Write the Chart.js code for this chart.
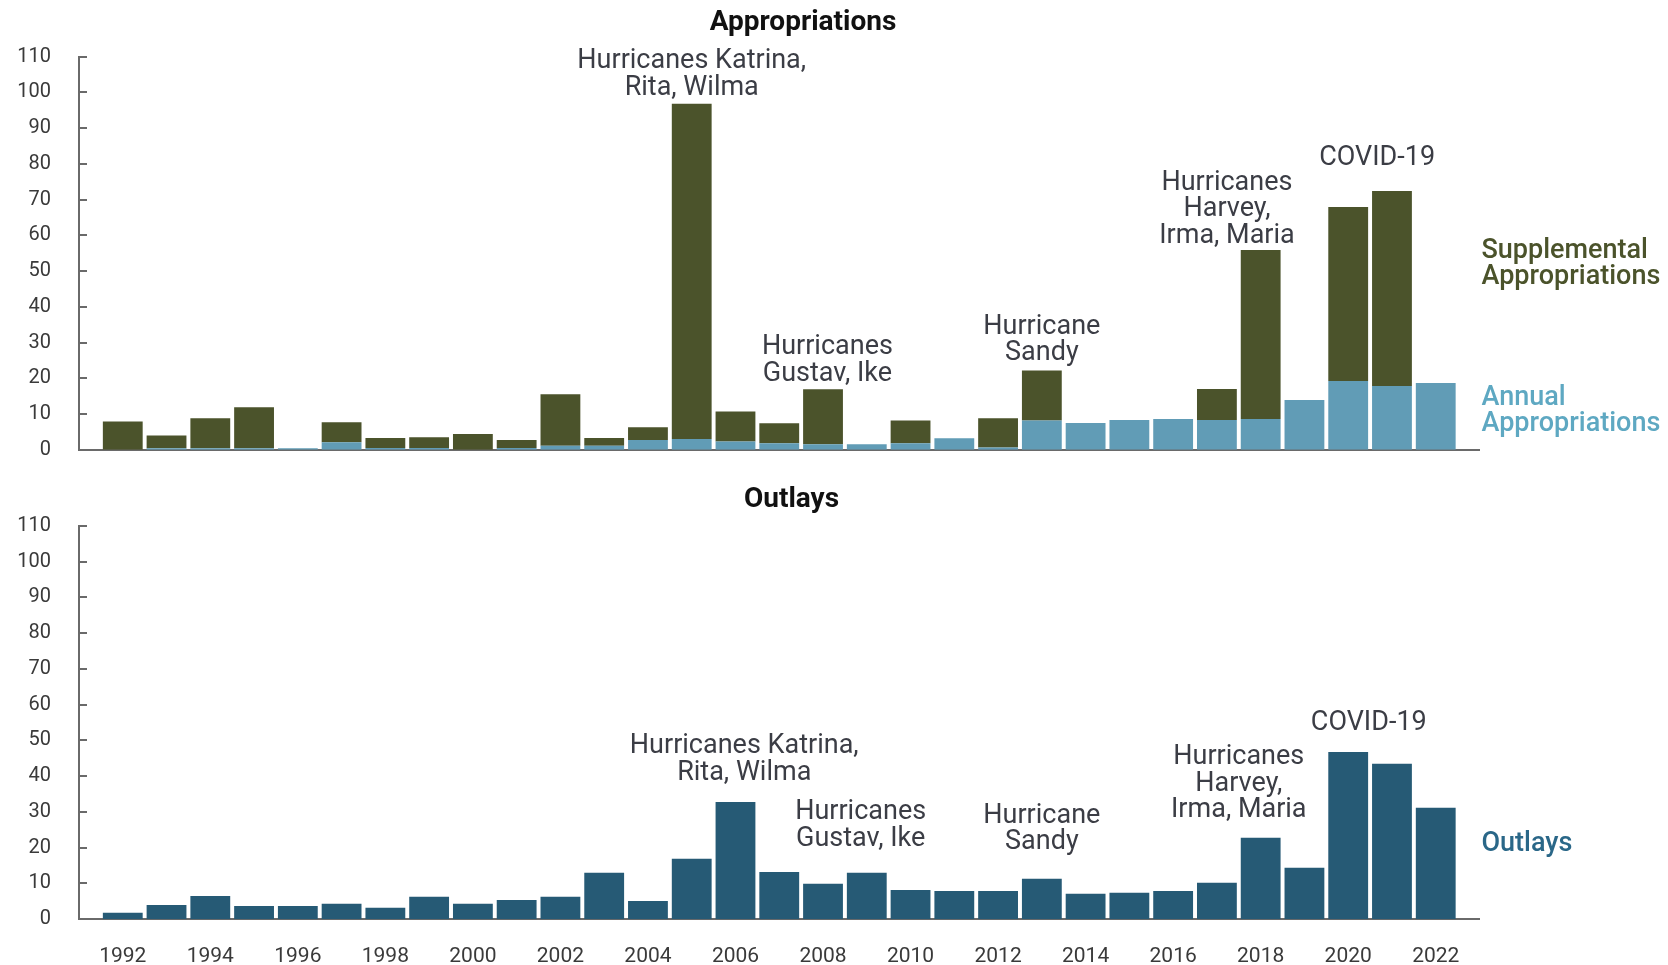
<!DOCTYPE html>
<html>
<head>
<meta charset="utf-8">
<script src="https://cdn.jsdelivr.net/npm/chart.js@4.4.1/dist/chart.umd.min.js"></script>
<style>
  html, body { margin: 0; padding: 0; background: #ffffff; }
  #wrap { position: relative; width: 1668px; height: 965px; overflow: hidden; }
  canvas { position: absolute; left: 0; top: 0; }
</style>
</head>
<body>
<div id="wrap">
  <canvas id="approp" width="1668" height="965"></canvas>
  <canvas id="outlay" width="1668" height="965"></canvas>
</div>
<script>
// Fiscal years
const years = [1992, 1993, 1994, 1995, 1996, 1997, 1998, 1999, 2000, 2001,
               2002, 2003, 2004, 2005, 2006, 2007, 2008, 2009, 2010, 2011,
               2012, 2013, 2014, 2015, 2016, 2017, 2018, 2019, 2020, 2021, 2022];

// Disaster Relief Fund, billions of dollars
const annualApprop = [0, 0.4, 0.4, 0.4, 0.4, 2.1, 0.5, 0.5, 0, 0.5,
                      1.1, 1.1, 2.7, 3.0, 2.3, 1.8, 1.5, 1.5, 1.8, 3.2,
                      0.6, 8.2, 7.5, 8.3, 8.6, 8.3, 8.6, 13.9, 19.2, 17.8, 18.7];

const supplementalApprop = [7.9, 3.6, 8.4, 11.5, 0, 5.6, 2.8, 3.0, 4.4, 2.2,
                            14.4, 2.2, 3.6, 93.8, 8.4, 5.6, 15.4, 0, 6.4, 0,
                            8.2, 14.0, 0, 0, 0, 8.7, 47.3, 0, 48.7, 54.6, 0];

const outlays = [1.8, 4.0, 6.5, 3.7, 3.7, 4.3, 3.2, 6.25, 4.3, 5.4,
                 6.25, 13.0, 5.1, 16.9, 32.8, 13.2, 9.9, 13.0, 8.2, 7.9,
                 7.9, 11.3, 7.1, 7.4, 7.9, 10.2, 22.8, 14.4, 46.8, 43.5, 31.2];

const yearTicks = [1992, 1994, 1996, 1998, 2000, 2002, 2004, 2006, 2008, 2010,
                   2012, 2014, 2016, 2018, 2020, 2022];
const valueTicks = [0, 10, 20, 30, 40, 50, 60, 70, 80, 90, 100, 110];

// Event labels: anchored at a year and at the value of the last line's baseline
const appropNotes = [
  { year: 2005.0, value: 99.3, lines: ['Hurricanes Katrina,', 'Rita, Wilma'] },
  { year: 2008.1, value: 19.3, lines: ['Hurricanes', 'Gustav, Ike'] },
  { year: 2013.0, value: 25.1, lines: ['Hurricane', 'Sandy'] },
  { year: 2017.23, value: 57.9, lines: ['Hurricanes', 'Harvey,', 'Irma, Maria'] },
  { year: 2020.66, value: 79.7, lines: ['COVID-19'] }
];
const outlayNotes = [
  { year: 2006.2, value: 39.0, lines: ['Hurricanes Katrina,', 'Rita, Wilma'] },
  { year: 2008.86, value: 20.6, lines: ['Hurricanes', 'Gustav, Ike'] },
  { year: 2013.0, value: 19.6, lines: ['Hurricane', 'Sandy'] },
  { year: 2017.5, value: 28.5, lines: ['Hurricanes', 'Harvey,', 'Irma, Maria'] },
  { year: 2020.47, value: 53.0, lines: ['COVID-19'] }
];

const COL_SUPP = '#4b532b';
const COL_ANNUAL = '#619cb6';
const COL_OUTLAY = '#265a75';
const COL_AXIS = '#6a6a6a';
const COL_TEXT = '#3b3d45';
const FONT = 'Roboto, "Noto Sans", sans-serif';

Chart.defaults.font.family = FONT;
Chart.defaults.color = '#3a3a3a';

const pairs = vals => years.map((yr, i) => ({ x: yr, y: vals[i] }));

// Axis decorations, event labels and side labels
function decorPlugin(cfg) {
  return {
    id: 'decor',
    afterDraw(chart) {
      const { ctx, chartArea, scales: { x, y } } = chart;
      ctx.save();
      // inward tick marks on the value axis
      ctx.strokeStyle = COL_AXIS;
      ctx.lineWidth = 2;
      valueTicks.forEach(v => {
        const py = Math.round(y.getPixelForValue(v));
        ctx.beginPath();
        ctx.moveTo(chartArea.left, py);
        ctx.lineTo(chartArea.left + 8, py);
        ctx.stroke();
      });
      // panel title
      ctx.fillStyle = '#111111';
      ctx.font = 'bold 28px ' + FONT;
      ctx.textAlign = 'center';
      ctx.textBaseline = 'alphabetic';
      ctx.fillText(cfg.title, cfg.titleX, cfg.titleY);
      // event labels
      ctx.fillStyle = COL_TEXT;
      ctx.font = '27px ' + FONT;
      cfg.notes.forEach(n => {
        const cx = x.getPixelForValue(n.year);
        const by = y.getPixelForValue(n.value);
        const k = n.lines.length;
        n.lines.forEach((line, i) => ctx.fillText(line, cx, by - (k - 1 - i) * 26.5));
      });
      // series labels at the right edge
      ctx.textAlign = 'left';
      ctx.font = '500 27px ' + FONT;
      cfg.side.forEach(s => {
        ctx.fillStyle = s.color;
        const by = y.getPixelForValue(s.value);
        s.lines.forEach((line, i) => ctx.fillText(line, chartArea.right + 2, by + i * 25.8));
      });
      ctx.restore();
    }
  };
}

function baseScales(showYears) {
  return {
    x: {
      type: 'linear',
      min: 1991,
      max: 2023,
      offset: false,
      stacked: true,
      grid: { display: false, drawTicks: false },
      border: { display: true, color: COL_AXIS, width: 2 },
      afterBuildTicks: s => { s.ticks = yearTicks.map(v => ({ value: v })); },
      afterFit: s => { s.height = showYears ? 45.8 : 0; },
      ticks: {
        display: showYears,
        padding: 25,
        color: '#3a3a3a',
        font: { size: 21 },
        callback: v => String(v),
        maxRotation: 0,
        autoSkip: false
      }
    },
    y: {
      min: 0,
      max: 110,
      stacked: true,
      grid: { display: false, drawTicks: false },
      border: { display: true, color: COL_AXIS, width: 2 },
      afterBuildTicks: s => { s.ticks = valueTicks.map(v => ({ value: v })); },
      afterFit: s => { s.width = 79; },
      ticks: {
        padding: 28,
        color: '#3a3a3a',
        font: { size: 20 }
      }
    }
  };
}

const common = {
  responsive: false,
  animation: false,
  devicePixelRatio: 1,
  plugins: { legend: { display: false }, tooltip: { enabled: false }, title: { display: false } }
};

new Chart(document.getElementById('approp'), {
  type: 'bar',
  data: {
    datasets: [
      { label: 'Annual Appropriations', data: pairs(annualApprop), backgroundColor: COL_ANNUAL,
        categoryPercentage: 1, barPercentage: 0.91, borderWidth: 0 },
      { label: 'Supplemental Appropriations', data: pairs(supplementalApprop), backgroundColor: COL_SUPP,
        categoryPercentage: 1, barPercentage: 0.91, borderWidth: 0 }
    ]
  },
  options: Object.assign({}, common, {
    layout: { padding: { top: 56.7, bottom: 515.3, left: 0, right: 188.5 } },
    scales: baseScales(false)
  }),
  plugins: [decorPlugin({
    title: 'Appropriations', titleX: 803, titleY: 29.8,
    notes: appropNotes,
    side: [
      { value: 53.7, color: COL_SUPP, lines: ['Supplemental', 'Appropriations'] },
      { value: 12.5, color: '#5ea8c2', lines: ['Annual', 'Appropriations'] }
    ]
  })]
});

new Chart(document.getElementById('outlay'), {
  type: 'bar',
  data: {
    datasets: [
      { label: 'Outlays', data: pairs(outlays), backgroundColor: COL_OUTLAY,
        categoryPercentage: 1, barPercentage: 0.91, borderWidth: 0 }
    ]
  },
  options: Object.assign({}, common, {
    layout: { padding: { top: 526, bottom: 0, left: 0, right: 188.5 } },
    scales: baseScales(true)
  }),
  plugins: [decorPlugin({
    title: 'Outlays', titleX: 791.5, titleY: 507.3,
    notes: outlayNotes,
    side: [
      { value: 19.2, color: '#2a6788', lines: ['Outlays'] }
    ]
  })]
});
</script>
</body>
</html>
